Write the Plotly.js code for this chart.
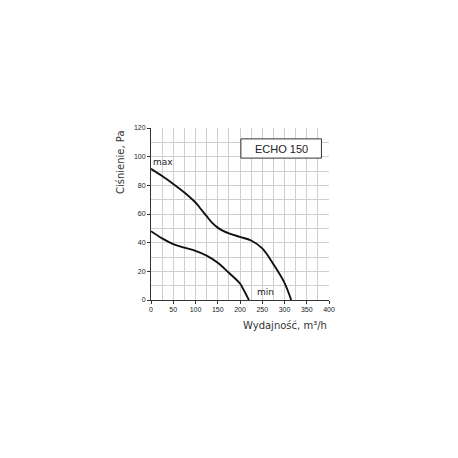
<!DOCTYPE html>
<html><head><meta charset="utf-8">
<script src="https://cdn.plot.ly/plotly-3.0.1.min.js"></script>
<style>html,body{margin:0;padding:0;background:#fff;}</style>
</head><body><div id="chart" style="width:458px;height:458px;"></div>
<script>
const maxX = [0, 25, 50, 75, 100, 112, 125, 137, 150, 162, 175, 200, 225, 250, 275, 300, 315];
const maxY = [91.5, 86.5, 81, 75, 68, 63.5, 58.5, 54, 50.5, 48.2, 46.5, 44, 41.5, 36, 25, 12, 0];
const minX = [0, 25, 50, 75, 100, 125, 150, 175, 200, 210, 220];
const minY = [48, 43, 39, 36.5, 34.3, 31, 26, 19, 11.5, 6, 0];
const xLabel = "Wydajność, m³/h";
const yLabel = "Ciśnienie, Pa";
const modelName = "ECHO 150";

const lineStyle = {color: '#111', width: 1.9, shape: 'spline', smoothing: 1};
const traces = [
  {x: maxX, y: maxY, mode: 'lines', line: lineStyle, hoverinfo: 'skip'},
  {x: minX, y: minY, mode: 'lines', line: lineStyle, hoverinfo: 'skip'}
];
const tickFont = {family: 'Liberation Sans, Arial, sans-serif', size: 7, color: '#222'};
const gridCol = '#cfcfcf';
const layout = {
  width: 458, height: 458,
  margin: {l: 151, r: 129, t: 128, b: 158},
  paper_bgcolor: '#fff', plot_bgcolor: '#fff',
  showlegend: false,
  xaxis: {range: [0, 400], dtick: 50, tick0: 0, showgrid: true, gridcolor: gridCol, gridwidth: 1,
    minor: {dtick: 25, showgrid: true, gridcolor: gridCol},
    showline: true, linecolor: '#333', linewidth: 1, ticks: 'outside', ticklen: 3, tickcolor: '#333',
    tickfont: tickFont, zeroline: false, fixedrange: true},
  yaxis: {range: [0, 120], dtick: 20, tick0: 0, showgrid: true, gridcolor: gridCol, gridwidth: 1,
    minor: {dtick: 10, showgrid: true, gridcolor: gridCol},
    showline: true, linecolor: '#333', linewidth: 1, ticks: 'outside', ticklen: 3, tickcolor: '#333',
    tickfont: tickFont, zeroline: false, fixedrange: true},
  shapes: [
    {type: 'rect', xref: 'x', yref: 'y', x0: 202, x1: 383, y0: 99, y1: 112.4,
     line: {color: '#333', width: 1}, fillcolor: '#fff', layer: 'above'}
  ],
  annotations: [
    {x: 292.5, y: 105.7, xref: 'x', yref: 'y', text: modelName, showarrow: false,
     font: {family: 'Liberation Sans, Arial, sans-serif', size: 11, color: '#222'}},
    {x: 1, y: 96, xref: 'x', yref: 'y', text: 'max', showarrow: false, xanchor: 'left',
     font: {family: 'DejaVu Sans, sans-serif', size: 9, color: '#222'}},
    {x: 233, y: 5.5, xref: 'x', yref: 'y', text: 'min', showarrow: false, xanchor: 'left',
     font: {family: 'DejaVu Sans, sans-serif', size: 9, color: '#222'}},
    {x: 1, y: 0, xref: 'paper', yref: 'paper', yshift: -25, xanchor: 'right', yanchor: 'middle',
     text: xLabel, showarrow: false, font: {family: 'DejaVu Sans, sans-serif', size: 10, color: '#333'}},
    {x: 0, y: 1, xref: 'paper', yref: 'paper', xshift: -31, xanchor: 'center', yanchor: 'top',
     textangle: -90, text: yLabel, showarrow: false, font: {family: 'DejaVu Sans, sans-serif', size: 10, color: '#333'}}
  ]
};
Plotly.newPlot('chart', traces, layout, {displayModeBar: false, staticPlot: true});
</script></body></html>
